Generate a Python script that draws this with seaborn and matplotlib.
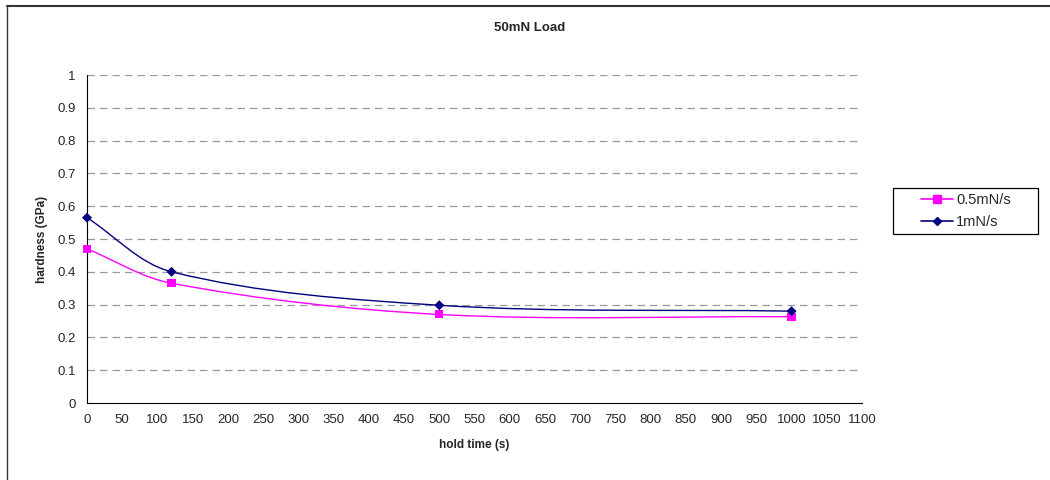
import numpy as np
import pandas as pd
import matplotlib
matplotlib.use('Agg')
import matplotlib.pyplot as plt
import seaborn as sns
from matplotlib.path import Path
from matplotlib.patches import PathPatch, Rectangle
from matplotlib.lines import Line2D

# data
hold_time = [0, 120, 500, 1000]
hardness_05 = [0.47, 0.365, 0.27, 0.263]
hardness_1 = [0.565, 0.40, 0.298, 0.28]
series_names = ['0.5mN/s', '1mN/s']
x_ticks = list(range(0, 1101, 50))
y_ticks = [0, 0.1, 0.2, 0.3, 0.4, 0.5, 0.6, 0.7, 0.8, 0.9, 1]

df = pd.DataFrame({
    'hold time (s)': hold_time * 2,
    'hardness (GPa)': hardness_05 + hardness_1,
    'series': [series_names[0]] * 4 + [series_names[1]] * 4,
})

sns.set_style('white')
plt.rcParams['font.family'] = ['Liberation Sans', 'DejaVu Sans']

colors = {'0.5mN/s': '#ff00ff', '1mN/s': '#000080'}
markers = {'0.5mN/s': 's', '1mN/s': 'D'}
sizes = {'0.5mN/s': 34, '1mN/s': 26}


def smooth_path(ax, xs, ys):
    # Excel-like smoothed line, control points worked out in screen space
    pts = ax.transData.transform(np.column_stack([xs, ys]).astype(float))
    n = len(pts)
    verts = [pts[0]]
    codes = [Path.MOVETO]
    for i in range(n - 1):
        p1, p2 = pts[i], pts[i + 1]
        d = np.hypot(*(p2 - p1)) / 3.0
        t1 = (p2 - pts[i - 1]) if i > 0 else (p2 - p1)
        t2 = (pts[i + 2] - p1) if i + 2 < n else (p2 - p1)
        c1 = p1 + t1 / np.hypot(*t1) * d
        c2 = p2 - t2 / np.hypot(*t2) * d
        verts += [c1, c2, p2]
        codes += [Path.CURVE4] * 3
    verts = ax.transData.inverted().transform(np.array(verts))
    return Path(verts, codes)


fig = plt.figure(figsize=(10.5, 4.8), dpi=100)
ax = fig.add_axes([87 / 1050, 1 - 403 / 480, (862 - 87) / 1050, (403 - 75) / 480])
ax.set_xlim(0, 1100)
ax.set_ylim(0, 1)

for name in series_names:
    sub = df[df['series'] == name]
    patch = PathPatch(smooth_path(ax, sub['hold time (s)'], sub['hardness (GPa)']),
                      facecolor='none', edgecolor=colors[name], lw=1.0, zorder=3)
    ax.add_patch(patch)

sns.scatterplot(data=df, x='hold time (s)', y='hardness (GPa)', hue='series',
                style='series', size='series', markers=markers, palette=colors,
                sizes=sizes, edgecolor='none', legend=False, ax=ax, zorder=4,
                clip_on=False)

ax.set_xlim(0, 1100)
ax.set_ylim(0, 1)
ax.set_xticks(x_ticks)
ax.set_yticks(y_ticks)
ax.set_yticklabels([f'{v:g}' for v in y_ticks])
ax.tick_params(axis='both', labelsize=9.5, length=4, width=0.8, color='black',
               direction='out', pad=4)
for yv in y_ticks[1:]:
    ax.axhline(yv, color='#999999', lw=0.9, ls=(0, (6, 4)), zorder=1)
for side in ['top', 'right']:
    ax.spines[side].set_visible(False)
for side in ['left', 'bottom']:
    ax.spines[side].set_color('black')
    ax.spines[side].set_linewidth(0.8)

ax.set_xlabel('hold time (s)', fontsize=8.5, fontweight='bold', labelpad=9)
ax.set_ylabel('hardness (GPa)', fontsize=8.5, fontweight='bold', labelpad=7)
fig.text(530 / 1050, 1 - 28 / 480, '50mN Load', ha='center', va='center',
         fontsize=9.5, fontweight='bold')

# legend: box drawn separately, entries placed inside
fig.add_artist(Rectangle((893 / 1050, 1 - 234 / 480), 145 / 1050, 46 / 480,
                         transform=fig.transFigure, facecolor='white',
                         edgecolor='black', lw=0.9))
handles = [Line2D([0], [0], color=colors[n], marker=markers[n],
                  markersize=5.5 if n == '0.5mN/s' else 4.5, lw=1.2)
           for n in series_names]
leg = fig.legend(handles, series_names, loc='center left',
                 bbox_to_anchor=(921 / 1050, 1 - 211 / 480), fontsize=10.5,
                 frameon=False, handlelength=2.2, borderpad=0,
                 labelspacing=0.55, handletextpad=0.2, borderaxespad=0)

# outer chart border (top and left visible)
fig.add_artist(Line2D([7 / 1050, 1], [1 - 6 / 480, 1 - 6 / 480], color='#333333', lw=1.5))
fig.add_artist(Line2D([7 / 1050, 7 / 1050], [0, 1 - 6 / 480], color='#333333', lw=1.0))

fig.savefig('out.png', dpi=100)
